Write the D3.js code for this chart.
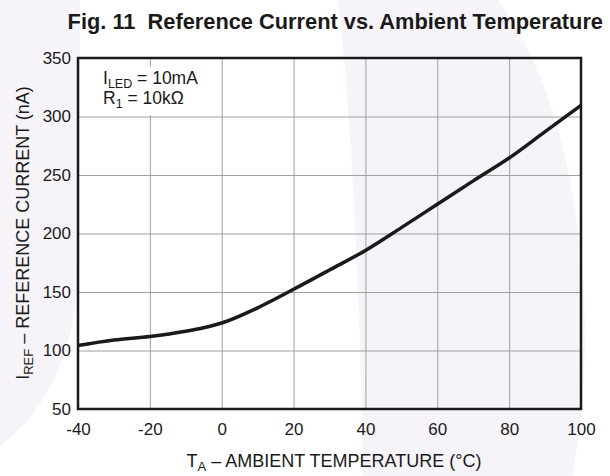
<!DOCTYPE html>
<html>
<head>
<meta charset="utf-8">
<script src="https://cdn.jsdelivr.net/npm/d3@7"></script>
<style>
  html, body { margin: 0; padding: 0; background: #ffffff; }
  svg { display: block; font-family: "Liberation Sans", Arial, Helvetica, sans-serif; }
</style>
</head>
<body>
<svg id="chart" width="610" height="476"></svg>
<script>
// Ambient temperature (°C) and reference current (nA) along the curve
const temperature = [-40, -30, -20, -10, -5, 0, 10, 20, 30, 40, 50, 60, 70, 80, 90, 100];
const refCurrent  = [104.3, 109, 112, 116.5, 119.5, 123.5, 136.5, 152.3, 168.8, 185.5, 205, 225, 245, 264.5, 287, 309.5];

const xTicks = [-40, -20, 0, 20, 40, 60, 80, 100];
const yTicks = [50, 100, 150, 200, 250, 300, 350];

const svg = d3.select("#chart");
const W = 610, H = 476;
const margin = { left: 78, right: 29, top: 58, bottom: 67 };

// faint background artwork
const bg = svg.append("g").attr("fill", "#f6f4f9");
bg.append("path").attr("d", "M0,0 L80,0 L80,250 C78,330 60,400 0,446 Z");
bg.append("path").attr("d", "M338,0 L498,0 C545,60 582,180 585,320 C586,380 580,430 573,476 L363,476 C360,300 352,120 338,0 Z");

const x = d3.scaleLinear().domain([-40, 100]).range([margin.left, W - margin.right]);
const y = d3.scaleLinear().domain([50, 350]).range([H - margin.bottom, margin.top]);

// grid
svg.append("g")
  .attr("transform", `translate(0,${y(50)})`)
  .call(d3.axisBottom(x).tickValues(xTicks).tickSize(-(y(50) - y(350))).tickFormat(""))
  .call(g => g.select(".domain").remove())
  .call(g => g.selectAll("line").attr("stroke", "#a0a0a0").attr("stroke-width", 1));
svg.append("g")
  .attr("transform", `translate(${x(-40)},0)`)
  .call(d3.axisLeft(y).tickValues(yTicks).tickSize(-(x(100) - x(-40))).tickFormat(""))
  .call(g => g.select(".domain").remove())
  .call(g => g.selectAll("line").attr("stroke", "#a0a0a0").attr("stroke-width", 1));

// condition box
svg.append("rect")
  .attr("x", x(-40) + 20).attr("y", y(350) + 9)
  .attr("width", 106).attr("height", 48)
  .attr("fill", "#ffffff");
const note = svg.append("g").attr("fill", "#1a1a1a").attr("font-size", 17.5);
const n1 = note.append("text").attr("x", x(-40) + 25).attr("y", y(350) + 26);
n1.append("tspan").text("I");
n1.append("tspan").attr("font-size", 12.5).attr("dy", 4).text("LED");
n1.append("tspan").attr("dy", -4).text(" = 10mA");
const n2 = note.append("text").attr("x", x(-40) + 25).attr("y", y(350) + 46);
n2.append("tspan").text("R");
n2.append("tspan").attr("font-size", 12.5).attr("dy", 4).text("1");
n2.append("tspan").attr("dy", -4).text(" = 10kΩ");

// frame
svg.append("rect")
  .attr("x", x(-40)).attr("y", y(350))
  .attr("width", x(100) - x(-40)).attr("height", y(50) - y(350))
  .attr("fill", "none").attr("stroke", "#1a1a1a").attr("stroke-width", 2.5);

// curve
const line = d3.line()
  .x((d, i) => x(temperature[i]))
  .y(d => y(d))
  .curve(d3.curveMonotoneX);
svg.append("path")
  .datum(refCurrent)
  .attr("d", line)
  .attr("fill", "none")
  .attr("stroke", "#1a1a1a")
  .attr("stroke-width", 3.5)
  .attr("stroke-linejoin", "round");

// tick labels (plain hyphen for negatives)
const fmt = d => String(d);
const xl = svg.append("g").attr("transform", `translate(0,${y(50)})`)
  .call(d3.axisBottom(x).tickValues(xTicks).tickSize(0).tickPadding(14).tickFormat(fmt));
xl.select(".domain").remove();
xl.selectAll("text").attr("font-size", 17).attr("fill", "#1a1a1a").attr("font-family", null);

const yl = svg.append("g").attr("transform", `translate(${x(-40)},0)`)
  .call(d3.axisLeft(y).tickValues(yTicks).tickSize(0).tickPadding(7).tickFormat(fmt));
yl.select(".domain").remove();
yl.selectAll("text").attr("font-size", 17).attr("fill", "#1a1a1a").attr("font-family", null);

// axis titles
const xt = svg.append("text")
  .attr("x", 334).attr("y", 467)
  .attr("text-anchor", "middle").attr("font-size", 18).attr("fill", "#1a1a1a");
xt.append("tspan").text("T");
xt.append("tspan").attr("font-size", 13).attr("dy", 4).text("A");
xt.append("tspan").attr("dy", -4).text(" – AMBIENT TEMPERATURE (°C)");

const yt = svg.append("text")
  .attr("transform", "translate(29,233) rotate(-90)")
  .attr("text-anchor", "middle").attr("font-size", 18).attr("fill", "#1a1a1a");
yt.append("tspan").text("I");
yt.append("tspan").attr("font-size", 13).attr("dy", 4).text("REF");
yt.append("tspan").attr("dy", -4).text(" – REFERENCE CURRENT (nA)");

// title
svg.append("text")
  .attr("x", 603).attr("y", 29)
  .attr("text-anchor", "end")
  .attr("font-size", 21.8).attr("font-weight", "bold").attr("fill", "#1a1a1a")
  .attr("xml:space", "preserve")
  .text("Fig. 11  Reference Current vs. Ambient Temperature");
</script>
</body>
</html>
